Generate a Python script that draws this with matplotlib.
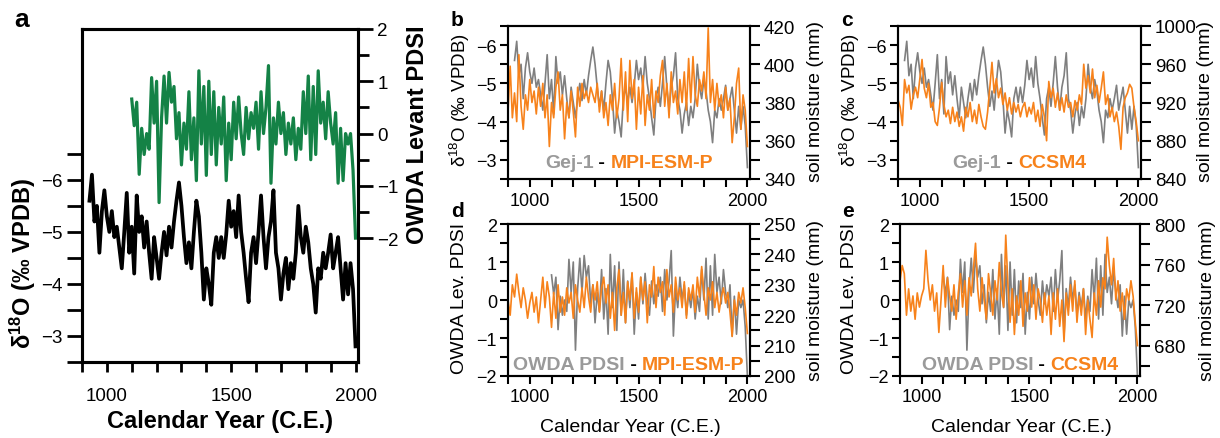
import numpy as np
import matplotlib
matplotlib.use('Agg')
import matplotlib.pyplot as plt
from matplotlib.offsetbox import TextArea, HPacker, AnchoredOffsetbox

plt.rcParams['font.family'] = ['Liberation Sans', 'DejaVu Sans']
plt.rcParams['mathtext.fontset'] = 'custom'
plt.rcParams['mathtext.rm'] = 'Liberation Sans'
plt.rcParams['mathtext.bf'] = 'Liberation Sans:bold'
plt.rcParams['mathtext.default'] = 'regular'

# -------------------------------
# data (10-yr steps)
# -------------------------------
gej_years = np.arange(930, 2010, 10)
gej_d18o = [
    -5.6, -6.1, -5.2, -5.5, -4.6, -5.4, -5.8,
    -5.3, -5.0, -5.4, -4.9, -5.1, -4.7, -4.3, -5.0, -5.75, -4.6,
    -5.1, -4.2, -5.7, -5.0, -5.3, -4.7, -5.2, -4.6, -4.1, -4.9,
    -4.5, -4.1, -4.6, -5.0, -4.55, -5.1, -4.7, -5.2, -5.6, -5.95,
    -5.5, -4.9, -4.4, -4.8, -4.3, -5.0, -5.6, -5.3, -4.6, -3.7,
    -4.3, -4.0, -3.6, -4.6, -4.9, -4.5, -4.9, -4.5, -4.95, -5.6,
    -5.1, -5.4, -4.9, -5.7, -5.0, -4.6, -4.1, -3.65, -4.6, -4.9,
    -4.4, -5.0, -5.7, -4.9, -4.3, -4.9, -5.2, -5.8, -4.6, -4.3,
    -3.7, -4.2, -4.5, -3.9, -4.4, -4.1, -4.6, -5.5, -4.9, -4.6,
    -5.1, -4.8, -4.3, -4.0, -3.45, -4.3, -4.1, -4.6, -4.3, -4.6,
    -4.95, -4.3, -4.6, -4.9, -4.3, -3.7, -4.4, -3.8, -4.4, -3.9,
    -2.8,
]

owda_years = np.arange(1100, 2010, 10)
owda_pdsi = [
    0.66, 0.15, 0.6, -0.78, 0.1, -0.4, 0.0, -0.3, 1.07, 0.2,
    1.0, -1.32, 0.3, 1.1, 0.2, 1.17, 0.6, 0.9, -0.1, 0.4,
    -0.6, 0.2, -0.3, 0.8, -0.5, 0.3, -0.9, 1.2, -0.2, 0.9,
    -0.8, 1.0, -0.4, 0.8, -0.6, 0.5, -0.2, 0.7, -0.9, 0.2,
    -0.5, 0.6, -0.1, 0.7, 0.0, -0.4, 0.5, -0.1, 0.4, 0.1,
    0.6, -0.3, 0.8, 0.0, 0.5, 1.3, -0.95, 0.3, -0.2, 0.6,
    0.0, 0.4, -0.4, 0.2, -0.2, 0.3, -0.5, 0.1, -0.3, 0.8,
    0.0, 1.1, -0.5, 0.9, -0.4, 1.2, 0.2, 0.6, -0.1, 0.8,
    0.2, -0.2, 0.4, -0.95, 0.1, -0.9, 0.0, -0.2, 0.0, -0.7,
    -2.0,
]

model_years = np.arange(900, 2010, 10)
mpi_sm_b = [
    375, 399, 372, 385, 370, 405, 378, 366, 384, 376,
    392, 380, 386, 374, 388, 378, 390, 372, 384, 357,
    380, 372, 388, 396, 376, 384, 361, 380, 372, 386,
    375, 362, 388, 378, 390, 382, 386, 380, 388, 384,
    380, 390, 375, 386, 372, 380, 368, 384, 376, 390,
    372, 382, 403, 376, 396, 370, 402, 382, 392, 366,
    388, 374, 394, 368, 384, 376, 392, 372, 386, 380,
    394, 402, 378, 390, 372, 396, 380, 386, 374, 392,
    380, 396, 376, 403, 380, 404, 384, 378, 392, 386,
    396, 382, 419, 380, 392, 376, 390, 378, 384, 372,
    388, 376, 382, 359, 372, 390, 398, 366, 384, 376,
    357,
]
ccsm_sm_c = [
    923, 915, 896, 944, 930, 938, 913, 928, 936, 925,
    945, 965, 935, 925, 940, 915, 920, 900, 896, 915,
    941, 918, 905, 912, 898, 915, 900, 910, 895, 905,
    890, 915, 905, 920, 900, 912, 898, 918, 905, 895,
    892, 910, 935, 962, 930, 945, 925, 935, 918, 930,
    912, 925, 908, 920, 910, 918, 905, 915, 920, 905,
    915, 908, 920, 900, 912, 895, 918, 905, 880, 942,
    925, 935, 915, 930, 912, 925, 910, 928, 915, 920,
    905, 922, 912, 928, 918, 960, 935, 948, 930, 955,
    925, 938, 920, 935, 952, 918, 928, 905, 915, 900,
    910, 895, 871, 915, 925, 930, 939, 935, 915, 900,
    880,
]
mpi_sm_d = [
    225, 220, 230, 226, 233.5, 227.5, 222.5, 229, 225, 219,
    224, 227.5, 221, 226, 217.5, 225, 232.5, 222.5, 231, 226,
    216, 227.5, 219, 230, 221, 226, 220, 229, 224, 227.5,
    219, 230, 225, 221, 229, 222.5, 232.5, 226, 221, 230,
    225, 231, 221, 229, 232.5, 224, 230, 219, 227.5, 215,
    229, 235, 220, 227.5, 217.5, 231, 225, 234, 219, 229,
    221, 232.5, 225, 231, 217.5, 230, 226, 236, 222.5, 232.5,
    227.5, 231, 220, 235, 226, 230, 221, 232.5, 225, 229,
    222.5, 231, 219, 229, 225, 230, 221, 232.5, 226, 236,
    227.5, 220, 229, 225, 231, 222.5, 227.5, 221, 226, 229,
    224, 227.5, 221, 213, 225, 220, 227.5, 224, 229, 222.5,
    214,
]
ccsm_sm_e = [
    744, 759, 751, 710, 736, 714, 729, 706, 732, 718,
    729, 736, 774, 744, 725, 740, 714, 732, 693, 725,
    759, 718, 747, 729, 714, 740, 706, 732, 751, 718,
    744, 710, 747, 729, 755, 781, 736, 714, 747, 725,
    706, 751, 732, 710, 744, 725, 762, 732, 718, 789,
    740, 703, 736, 691, 729, 710, 744, 699, 732, 714,
    747, 718, 740, 706, 736, 725, 703, 732, 710, 729,
    691, 732, 706, 736, 699, 725, 684, 732, 710, 740,
    714, 744, 703, 729, 710, 736, 691, 725, 706, 688,
    732, 710, 744, 718, 747, 736, 787, 759, 740, 766,
    725, 744, 714, 732, 706, 736, 725, 744, 729, 703,
    680,
]

GREEN = '#148246'
ORANGE = '#f7821b'
GRAY = '#7f7f7f'
LGRAY = '#9a9a9a'

W, H = 1220, 439
fig = plt.figure(figsize=(W / 100, H / 100), dpi=100)


def rect(l, r, t, b):
    return [l / W, 1 - b / H, (r - l) / W, (b - t) / H]


def ftext(x, y, s, **kw):
    fig.text(x / W, 1 - y / H, s, ha='center', va='center', **kw)


# -------------------------------
# panel a
# -------------------------------
ax = fig.add_axes(rect(82, 358, 30, 363))
ax2 = ax.twinx()
ax.plot(gej_years, gej_d18o, color='black', lw=2.7)
ax2.plot(owda_years, owda_pdsi, color=GREEN, lw=2.3)
ax.set_xlim(900, 2010)
ax.set_ylim(-2.5, -8.9)
ax2.set_ylim(-4.37, 2)
ax.set_xticks([1000, 1500, 2000])
ax.set_xticks(np.arange(900, 2001, 100), minor=True)
ax.set_yticks([-6, -5, -4, -3])
ax.set_yticks([-6.5, -5.5, -4.5, -3.5, -2.5], minor=True)
ax2.set_yticks([-2, -1, 0, 1, 2])
ax2.set_yticks([-1.5, -0.5, 0.5, 1.5], minor=True)
for a in (ax, ax2):
    for s in a.spines.values():
        s.set_linewidth(2.2)
ax.tick_params(axis='y', which='both', direction='out', length=11, width=2, labelsize=13.5, pad=3)
ax.tick_params(axis='x', which='both', direction='out', length=7, width=2, labelsize=13.5, pad=11)
ax2.tick_params(axis='y', which='major', direction='out', length=11, width=2, labelsize=13.5, pad=3)
ax2.tick_params(axis='y', which='minor', direction='out', length=8, width=2)
ftext(220, 422, 'Calendar Year (C.E.)', fontsize=17, fontweight='bold')
ftext(23, 264, r'δ$^{\mathbf{18}}$O (‰ VPDB)', fontsize=17, fontweight='bold', rotation=90)
ftext(417, 135, 'OWDA Levant PDSI', fontsize=17, fontweight='bold', rotation=90)
ftext(22, 20, 'a', fontsize=19, fontweight='bold')


# -------------------------------
# small panels b-e
# -------------------------------
def legend_text(a, parts, y):
    boxes = [TextArea(t, textprops=dict(color=c, fontsize=14, fontweight='bold')) for t, c in parts]
    pack = HPacker(children=boxes, align='baseline', pad=0, sep=0)
    box = AnchoredOffsetbox(loc='lower center', child=pack, pad=0, borderpad=0, frameon=False,
                            bbox_to_anchor=(0.5, y), bbox_transform=a.transAxes)
    a.add_artist(box)


def small_panel(l, r, t, b, gx, gy, oy, left_lim, right_lim, lmaj, lmin, rmaj, rmin):
    a = fig.add_axes(rect(l, r, t, b))
    a2 = a.twinx()
    a.plot(gx, gy, color=GRAY, lw=1.2)
    a2.plot(model_years, oy, color=ORANGE, lw=1.2)
    a.set_xlim(900, 2012)
    a.set_ylim(*left_lim)
    a2.set_ylim(*right_lim)
    a.set_xticks([1000, 1500, 2000])
    a.set_xticks(np.arange(900, 2001, 100), minor=True)
    a.set_yticks(lmaj)
    a.set_yticks(lmin, minor=True)
    a2.set_yticks(rmaj)
    a2.set_yticks(rmin, minor=True)
    for z in (a, a2):
        for s in z.spines.values():
            s.set_linewidth(1.5)
    a.tick_params(axis='both', which='both', direction='out', length=6, width=1.5, labelsize=13, pad=3)
    a.tick_params(axis='y', which='both', pad=2)
    a2.tick_params(axis='y', which='both', direction='out', length=7, width=1.5, labelsize=13.5, pad=3)
    return a, a2


# b
axb, axb2 = small_panel(508, 750, 27, 180, gej_years, gej_d18o, mpi_sm_b,
                        (-2.5, -6.5), (340, 420), [-6, -5, -4, -3], np.arange(-6.5, -2.4, 0.5),
                        np.arange(340, 421, 20), np.arange(350, 420, 20))
legend_text(axb, [('Gej-1', LGRAY), (' - ', 'black'), ('MPI-ESM-P', ORANGE)], 0.05)
ftext(460, 100, r'δ$^{18}$O (‰ VPDB)', fontsize=13.5, rotation=90)
ftext(815, 101, 'soil moisture (mm)', fontsize=14, rotation=90)
ftext(457, 20, 'b', fontsize=15, fontweight='bold')

# c
axc, axc2 = small_panel(898, 1141, 27, 180, gej_years, gej_d18o, ccsm_sm_c,
                        (-2.5, -6.5), (840, 1000), [-6, -5, -4, -3], np.arange(-6.5, -2.4, 0.5),
                        np.arange(840, 1001, 40), np.arange(860, 1000, 40))
legend_text(axc, [('Gej-1', LGRAY), (' - ', 'black'), ('CCSM4', ORANGE)], 0.05)
ftext(850, 100, r'δ$^{18}$O (‰ VPDB)', fontsize=13.5, rotation=90)
ftext(1206, 101, 'soil moisture (mm)', fontsize=14, rotation=90)
ftext(847, 20, 'c', fontsize=15, fontweight='bold')

# d
axd, axd2 = small_panel(508, 750, 225, 377, owda_years, owda_pdsi, mpi_sm_d,
                        (-2, 2), (200, 250), [-2, -1, 0, 1, 2], np.arange(-1.5, 2, 1.0),
                        np.arange(200, 251, 10), np.arange(205, 250, 10))
legend_text(axd, [('OWDA PDSI', LGRAY), (' - ', 'black'), ('MPI-ESM-P', ORANGE)], 0.02)
ftext(459, 298, 'OWDA Lev. PDSI', fontsize=14, rotation=90)
ftext(816, 301, 'soil moisture (mm)', fontsize=14, rotation=90)
ftext(630, 428, 'Calendar Year (C.E.)', fontsize=14)
ftext(458, 212, 'd', fontsize=15, fontweight='bold')

# e
axe, axe2 = small_panel(900, 1140, 225, 377, owda_years, owda_pdsi, ccsm_sm_e,
                        (-2, 2), (650, 800), [-2, -1, 0, 1, 2], np.arange(-1.5, 2, 1.0),
                        np.arange(680, 801, 40), np.arange(660, 800, 40))
legend_text(axe, [('OWDA PDSI', LGRAY), (' - ', 'black'), ('CCSM4', ORANGE)], 0.02)
ftext(849, 298, 'OWDA Lev. PDSI', fontsize=14, rotation=90)
ftext(1208, 301, 'soil moisture (mm)', fontsize=14, rotation=90)
ftext(1021, 428, 'Calendar Year (C.E.)', fontsize=14)
ftext(848, 212, 'e', fontsize=15, fontweight='bold')

fig.savefig('out.png', dpi=100)
